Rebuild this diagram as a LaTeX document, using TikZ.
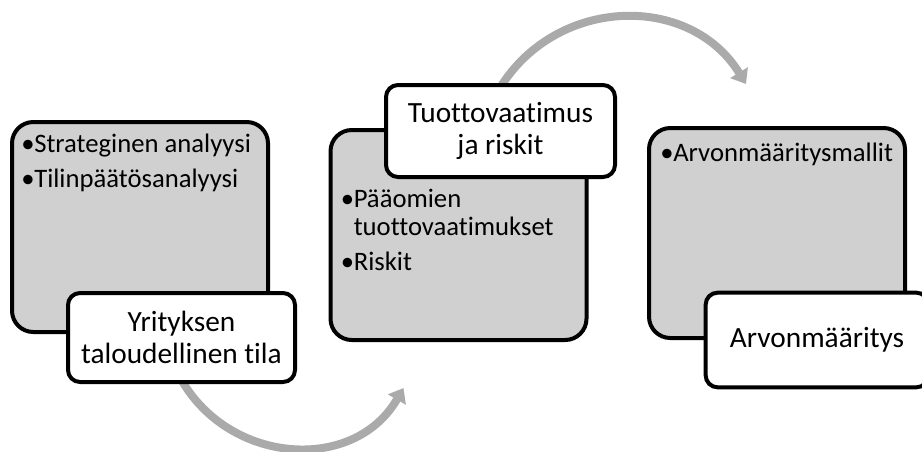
\documentclass[tikz,border=0pt]{standalone}
\usepackage{fontspec}
\setmainfont{Carlito}[Ligatures=NoCommon]
\usetikzlibrary{arrows.meta}
\usetikzlibrary{backgrounds}
\usepackage{xcolor}
\definecolor{ColFill}{RGB}{208,208,208}
\definecolor{ColArrow}{RGB}{170,170,170}
\newcommand{\bul}{\makebox[9.75pt][l]{•}}
\tikzstyle{GrayBox}=[draw=black,fill=ColFill,line width=3pt,rounded corners=16pt,
minimum width=192pt,minimum height=157.5pt,inner sep=0pt]
\tikzstyle{LabelBox}=[draw=black,fill=white,line width=3pt,rounded corners=9pt,inner sep=0pt,
align=center,font=\fontsize{22}{24}\selectfont]
\tikzstyle{ListText}=[anchor=north west,inner sep=0pt,align=left,font=\fontsize{20}{21}\selectfont]
\tikzstyle{CycleArrow}=[ColArrow,line width=6pt,-{Triangle[length=10pt,width=15pt]}]

\begin{document}
\begin{tikzpicture}[x=0.75pt,y=-0.75pt]
        \useasboundingbox (0,0) rectangle (922,451);
        % first step
        \node[GrayBox](gray1)at(140,227){};
        \node[ListText](list1)at([xshift=8.25pt,yshift=-10.5pt]gray1.north west)
            {\bul Strateginen analyysi\\[5pt]\bul Tilinpäätösanalyysi};
        \node[LabelBox,minimum width=170.25pt,minimum height=66.75pt](label1)at(181.5,337.5)
            {Yrityksen\\taloudellinen tila};
        % second step
        \node[GrayBox](gray2)at(458.5,235){};
        \node[ListText](list2)at([xshift=9pt,yshift=-46pt]gray2.north west)
            {\bul Pääomien\\\hspace*{9.75pt}tuottovaatimukset\\[5pt]\bul Riskit};
        \node[LabelBox,minimum width=171.75pt,minimum height=69pt](label2)at(500.5,131)
            {Tuottovaatimus\\ja riskit};
        % third step
        \node[GrayBox](gray3)at(777,233){};
        \node[ListText](list3)at([xshift=9.75pt,yshift=-12.5pt]gray3.north west)
            {\bul Arvonmääritysmallit};
        \node[LabelBox,minimum width=167pt,minimum height=71pt](label3)at(817,340)
            {Arvonmääritys};
        % arrows
        \begin{scope}[on background layer]
        \draw[CycleArrow]([yshift=3pt]label1.south)
            .. controls +(49,85) and +(-49,85) .. ([shift={(75,46)}]gray2.south west);
        \draw[CycleArrow]([yshift=-3pt]label2.north)
            .. controls +(57,-91) and +(-56,-91) .. ([shift={(99,-42)}]gray3.north west);
        \end{scope}
    \end{tikzpicture}
\end{document}
